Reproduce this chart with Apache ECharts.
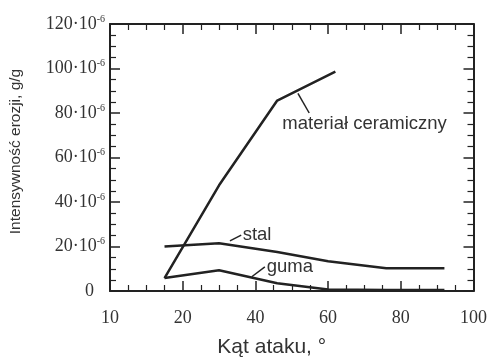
<!DOCTYPE html>
<html>
<head>
<meta charset="utf-8">
<script src="https://cdn.jsdelivr.net/npm/echarts@6/dist/echarts.min.js"></script>
<style>
  html, body { margin: 0; padding: 0; background: #fff; }
  #chart { width: 490px; height: 363px; }
</style>
</head>
<body>
<div id="chart"></div>
<script>
// angles of attack (degrees) and erosion intensity (x 10^-6 g/g)
const ceramicX = [15, 30, 46, 62];
const ceramicY = [5.8, 47.5, 85.6, 98.6];
const steelX = [15, 30, 46, 60, 76, 92];
const steelY = [20.0, 21.5, 17.5, 13.4, 10.2, 10.2];
const rubberX = [15, 30, 46, 60, 76, 92];
const rubberY = [5.8, 9.3, 3.5, 0.7, 0.5, 0.5];

// tick labels as printed on the x axis (positions 0,20,...,100)
const xTickLabels = ["10", "20", "40", "60", "80", "100"];
const yTicks = [0, 20, 40, 60, 80, 100, 120];

// annotation text + leader line endpoints, in data units
const labels = [
  { text: "materiał ceramiczny", at: [47.4, 75.2], leader: [[51.7, 88.8], [54.8, 80.0]] },
  { text: "stal", at: [36.5, 25.2], leader: [[33.0, 22.5], [36.1, 25.1]] },
  { text: "guma", at: [43.1, 10.7], leader: [[39.0, 6.4], [42.6, 10.8]] },
];

const pairs = (xs, ys) => xs.map((x, i) => [x, ys[i]]);

const chart = echarts.init(document.getElementById("chart"), null, { renderer: "canvas" });

const lineCol = "#222";
const serif = "Liberation Serif";
const sans = "Liberation Sans";

// shared tick look: inside ticks, minor every 5; onZero off so the frame stays on the edges
const tickStyle = {
  axisLine: { show: true, onZero: false, lineStyle: { color: lineCol, width: 2 } },
  axisTick: { show: true, inside: true, length: 10, lineStyle: { color: lineCol, width: 1.5 } },
  minorTick: { show: true, splitNumber: 4, length: 6, lineStyle: { color: lineCol, width: 1.2 } },
  splitLine: { show: false },
};

const yFormatter = (v) => (v === 0 ? "{z|0}" : "{b|" + v + "·10}{s|-6}");

chart.setOption({
  animation: false,
  backgroundColor: "#fff",
  grid: { left: 108, right: 16, top: 24, bottom: 66 },
  xAxis: [
    {
      type: "value", min: 0, max: 100, interval: 20, position: "bottom",
      ...tickStyle,
      axisLabel: {
        margin: 18, color: "#333", fontFamily: serif, fontSize: 18,
        formatter: (v) => xTickLabels[Math.round(v / 20)],
      },
      name: "Kąt ataku, °", nameLocation: "middle", nameGap: 46,
      nameTextStyle: { fontFamily: sans, fontSize: 21, color: "#333", padding: [0, 40, 0, 0] },
    },
    {
      type: "value", min: 0, max: 100, interval: 20, position: "top",
      ...tickStyle, axisLabel: { show: false },
    },
  ],
  yAxis: [
    {
      type: "value", min: yTicks[0], max: yTicks[yTicks.length - 1], interval: 20, position: "left",
      ...tickStyle,
      axisLabel: {
        margin: 5, color: "#333", fontFamily: serif, fontSize: 18,
        formatter: yFormatter,
        rich: {
          z: { fontFamily: serif, fontSize: 18, color: "#333", padding: [0, 11, 0, 0] },
          b: { fontFamily: serif, fontSize: 18, color: "#333" },
          s: { fontFamily: serif, fontSize: 10, color: "#333", verticalAlign: "top", padding: [0, 0, 10, 0] },
        },
      },
      name: "Intensywność erozji, g/g", nameLocation: "middle", nameGap: 86, nameRotate: 90,
      nameTextStyle: { fontFamily: sans, fontSize: 15.5, color: "#333", padding: [0, 0, 0, 12] },
    },
    {
      type: "value", min: 0, max: 120, interval: 20, position: "right",
      ...tickStyle, axisLabel: { show: false },
    },
  ],
  series: [
    { name: "materiał ceramiczny", data: pairs(ceramicX, ceramicY) },
    { name: "stal", data: pairs(steelX, steelY) },
    { name: "guma", data: pairs(rubberX, rubberY) },
  ].map((s, i) => ({
    type: "line",
    name: s.name,
    data: s.data,
    symbol: "none",
    lineStyle: { color: lineCol, width: 2.5 },
    z: 3,
    markLine: {
      silent: true, symbol: "none",
      lineStyle: { color: lineCol, width: 1.5, type: "solid" },
      label: { show: false },
      data: [[{ coord: labels[i].leader[0] }, { coord: labels[i].leader[1] }]],
    },
    markPoint: {
      silent: true, symbol: "circle", symbolSize: 0,
      data: [{ coord: labels[i].at }],
      label: {
        show: true, position: "right", distance: 0,
        formatter: labels[i].text,
        fontFamily: sans, fontSize: 18.5, color: "#333",
      },
    },
  })),
});
</script>
</body>
</html>
